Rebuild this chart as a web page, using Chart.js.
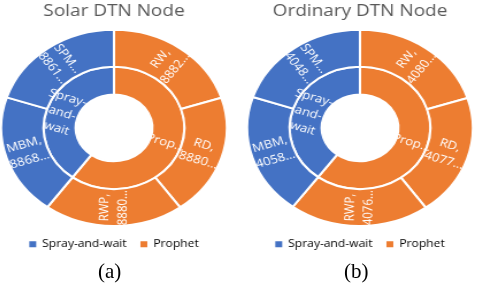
<!DOCTYPE html>
<html>
<head>
<meta charset="utf-8">
<script src="https://cdn.jsdelivr.net/npm/chart.js@4.4.1/dist/chart.umd.min.js"></script>
<style>
  html, body { margin: 0; padding: 0; background: #fff; }
  body { width: 480px; height: 291px; position: relative; overflow: hidden; }
  .box { position: absolute; top: 0; width: 210px; height: 262px; transform: scaleX(1.15); transform-origin: center center; }
  #boxA { left: 9px; }
  #boxB { left: 255px; }
  .cap { position: absolute; top: 261px; font-family: "Liberation Serif", serif; font-size: 21px; line-height: 1; color: #000; }
</style>
</head>
<body>
<div class="box" id="boxA"><canvas id="solarChart"></canvas></div>
<div class="box" id="boxB"><canvas id="ordinaryChart"></canvas></div>
<div class="cap" style="left:98px">(a)</div>
<div class="cap" style="left:344px">(b)</div>
<script>
// routing protocols (inner ring) and mobility models (outer ring)
const groups = ["Spray-and-wait", "Prophet"];
const groupTags = [["Spray-", "and-", "wait"], ["Prop…"]];
const groupColors = ["#4472C4", "#ED7D31"];

const models = ["SPM", "MBM", "RW", "RD", "RWP"];
const modelTags = ["SPM…", "MBM,", "RW,", "RD,", "RWP,"];
const modelGroup = [0, 0, 1, 1, 1];

const solarValues = [8861, 8868, 8882, 8880, 8880];
const ordinaryValues = [4048, 4058, 4080, 4077, 4076];

// sunburst style: biggest branch first, biggest leaf first inside a branch
function buildRings(values) {
  const totals = groups.map((g, gi) =>
    values.reduce((s, v, i) => s + (modelGroup[i] === gi ? v : 0), 0));
  const order = groups.map((g, gi) => gi).sort((a, b) => totals[b] - totals[a]);

  const outer = { data: [], tags: [], colors: [] };
  const inner = { data: [], tags: [], colors: [] };
  order.forEach(gi => {
    inner.data.push(totals[gi]);
    inner.tags.push(groupTags[gi]);
    inner.colors.push(groupColors[gi]);
    const idx = models.map((m, i) => i).filter(i => modelGroup[i] === gi)
      .sort((a, b) => values[b] - values[a]);
    idx.forEach(i => {
      outer.data.push(values[i]);
      outer.tags.push([modelTags[i], values[i] + "…"]);
      outer.colors.push(groupColors[gi]);
    });
  });
  return { outer, inner };
}

// white labels turned along the radius, flipped so they stay readable
const ringLabels = {
  id: "ringLabels",
  afterDatasetsDraw(chart) {
    const ctx = chart.ctx;
    ctx.save();
    ctx.fillStyle = "#fff";
    ctx.font = "11.5px 'Open Sans'";
    ctx.textAlign = "center";
    ctx.textBaseline = "middle";
    chart.data.datasets.forEach((ds, di) => {
      const meta = chart.getDatasetMeta(di);
      meta.data.forEach((arc, i) => {
        const p = arc.getProps(["x", "y", "startAngle", "endAngle", "innerRadius", "outerRadius"], true);
        const mid = (p.startAngle + p.endAngle) / 2;
        const r = (p.innerRadius + p.outerRadius) / 2;
        let rot = mid;
        if (Math.cos(mid) < 0) rot += Math.PI;
        const lines = ds.tags[i];
        ctx.save();
        ctx.translate(p.x + Math.cos(mid) * r, p.y + Math.sin(mid) * r);
        ctx.rotate(rot);
        lines.forEach((t, k) => ctx.fillText(t, 0, (k - (lines.length - 1) / 2) * 16));
        ctx.restore();
      });
    });
    ctx.restore();
  }
};

function drawSunburst(canvasId, title, values) {
  const rings = buildRings(values);
  return new Chart(document.getElementById(canvasId), {
    type: "doughnut",
    data: {
      labels: rings.outer.data.map((v, i) => rings.outer.tags[i][0]),
      datasets: [
        {
          data: rings.outer.data,
          tags: rings.outer.tags,
          backgroundColor: rings.outer.colors,
          borderColor: "#fff",
          borderWidth: 2,
          weight: 37
        },
        {
          data: rings.inner.data,
          tags: rings.inner.tags,
          backgroundColor: rings.inner.colors,
          borderColor: "#fff",
          borderWidth: 2,
          weight: 28
        }
      ]
    },
    options: {
      responsive: true,
      maintainAspectRatio: false,
      animation: false,
      cutout: "34%",
      layout: { padding: { bottom: 2.5 } },
      plugins: {
        title: {
          display: true,
          text: title,
          color: "#595959",
          font: { family: "'Open Sans'", size: 16.5, weight: "normal" },
          padding: { top: 1, bottom: 8 }
        },
        legend: {
          position: "bottom",
          onClick: null,
          labels: {
            color: "#595959",
            font: { family: "'Open Sans'", size: 10.5 },
            boxWidth: 6,
            boxHeight: 6,
            padding: 12,
            generateLabels: () => groups.map((g, i) => ({
              text: g,
              fillStyle: groupColors[i],
              strokeStyle: groupColors[i],
              lineWidth: 0,
              hidden: false,
              index: i
            }))
          }
        },
        tooltip: { enabled: false }
      }
    },
    plugins: [ringLabels]
  });
}

drawSunburst("solarChart", "Solar DTN Node", solarValues);
drawSunburst("ordinaryChart", "Ordinary DTN Node", ordinaryValues);
</script>
</body>
</html>
